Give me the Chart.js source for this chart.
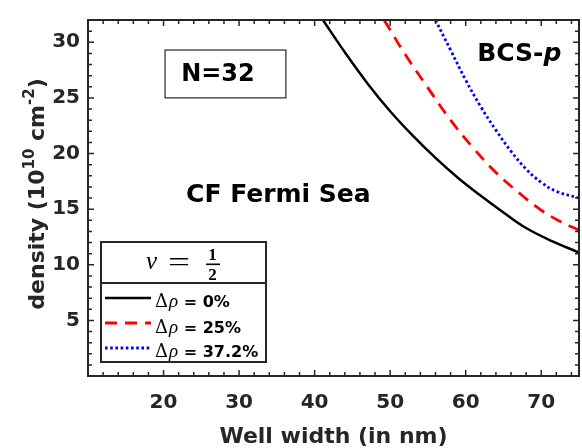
<!DOCTYPE html>
<html>
<head>
<meta charset="utf-8">
<script src="https://cdn.jsdelivr.net/npm/chart.js@4/dist/chart.umd.min.js"></script>
<style>
  html, body { margin: 0; padding: 0; background: #fff; }
</style>
</head>
<body>
<canvas id="myChart" width="582" height="448"></canvas>
<script>
const xTicks = [20, 30, 40, 50, 60, 70];
const yTicks = [5, 10, 15, 20, 25, 30];
const seriesLabels = ["0%", "25%", "37.2%"];

// well width (nm) vs density (10^10 cm^-2)
const width0 = [41.1, 44, 47, 50, 53, 56, 59, 62, 65, 68, 71.5, 75];
const density0 = [32, 29.1, 26.3, 23.8, 21.6, 19.6, 17.8, 16.2, 14.7, 13.3, 12.1, 11.1];

const width25 = [49.2, 52, 55, 58, 61, 64, 67, 70, 72.5, 75];
const density25 = [32, 28.9, 25.9, 23.0, 20.5, 18.3, 16.5, 14.9, 13.9, 13.1];

const width372 = [56, 58, 60, 62, 64, 66, 68, 70, 72, 75];
const density372 = [32, 29.3, 26.6, 24.2, 22.1, 20.2, 18.6, 17.4, 16.6, 16.0];

const FONT = "DejaVu Sans";
const AXIS = "#262626";

const toPoints = (xs, ys) => xs.map((v, i) => ({ x: v, y: ys[i] }));

const data = {
  datasets: [
    {
      label: seriesLabels[0],
      data: toPoints(width0, density0),
      borderColor: "#000000",
      borderWidth: 2.5,
    },
    {
      label: seriesLabels[1],
      data: toPoints(width25, density25),
      borderColor: "#ff0000",
      borderWidth: 2.8,
      borderDash: [12, 8],
    },
    {
      label: seriesLabels[2],
      data: toPoints(width372, density372),
      borderColor: "#0000ff",
      borderWidth: 2.8,
      borderDash: [2.6, 2.6],
    },
  ],
};

const frameAndText = {
  id: "frameAndText",
  afterDraw: (chart) => {
    const {
      ctx,
      chartArea: { top, bottom, left, right },
      scales: { x, y },
    } = chart;

    ctx.save();
    // inward ticks on all four sides
    ctx.strokeStyle = AXIS;
    ctx.lineWidth = 1.5;
    ctx.beginPath();
    for (let v = 10; v <= 75; v += 2) {
      const px = x.getPixelForValue(v);
      const len = xTicks.includes(v) ? 6 : 4;
      ctx.moveTo(px, bottom);
      ctx.lineTo(px, bottom - len);
      ctx.moveTo(px, top);
      ctx.lineTo(px, top + len);
    }
    for (let v = 0; v <= 32; v += 1) {
      const py = y.getPixelForValue(v);
      const len = yTicks.includes(v) ? 6 : 4;
      ctx.moveTo(left, py);
      ctx.lineTo(left + len, py);
      ctx.moveTo(right, py);
      ctx.lineTo(right - len, py);
    }
    ctx.stroke();
    ctx.lineWidth = 2;
    ctx.strokeRect(left, top, right - left, bottom - top);

    // axis titles
    ctx.fillStyle = AXIS;
    ctx.font = `bold 22px '${FONT}'`;
    ctx.textAlign = "center";
    ctx.textBaseline = "middle";
    ctx.fillText("Well width (in nm)", (left + right) / 2, 437);

    ctx.save();
    ctx.translate(44, (top + bottom) / 2 - 4);
    ctx.rotate(-Math.PI / 2);
    ctx.textAlign = "left";
    ctx.textBaseline = "alphabetic";
    const parts = [
      { t: "density (10", size: 22, dy: 0 },
      { t: "10", size: 15, dy: -10 },
      { t: " cm", size: 22, dy: 0 },
      { t: "-2", size: 15, dy: -10 },
      { t: ")", size: 22, dy: 0 },
    ];
    let total = 0;
    parts.forEach((p) => {
      ctx.font = `bold ${p.size}px '${FONT}'`;
      p.w = ctx.measureText(p.t).width;
      total += p.w;
    });
    let cx = -total / 2;
    parts.forEach((p) => {
      ctx.font = `bold ${p.size}px '${FONT}'`;
      ctx.fillText(p.t, cx, p.dy);
      cx += p.w;
    });
    ctx.restore();

    // annotations
    ctx.fillStyle = "#000";
    ctx.textAlign = "center";
    ctx.textBaseline = "middle";
    ctx.font = `bold 25px '${FONT}'`;
    ctx.fillText("CF Fermi Sea", x.getPixelForValue(35.2), y.getPixelForValue(16.2));

    const bx = x.getPixelForValue(67.1);
    const by = y.getPixelForValue(28.9);
    ctx.font = `bold 25px '${FONT}'`;
    const w1 = ctx.measureText("BCS-").width;
    ctx.font = `bold italic 25px '${FONT}'`;
    const w2 = ctx.measureText("p").width;
    ctx.textAlign = "left";
    ctx.font = `bold 25px '${FONT}'`;
    ctx.fillText("BCS-", bx - (w1 + w2) / 2, by);
    ctx.font = `bold italic 25px '${FONT}'`;
    ctx.fillText("p", bx - (w1 + w2) / 2 + w1, by);

    // N=32 box
    const nx0 = x.getPixelForValue(20.2);
    const nx1 = x.getPixelForValue(36.2);
    const ny0 = y.getPixelForValue(29.3);
    const ny1 = y.getPixelForValue(25.0);
    ctx.strokeStyle = AXIS;
    ctx.lineWidth = 1.2;
    ctx.strokeRect(nx0, ny0, nx1 - nx0, ny1 - ny0);
    ctx.textAlign = "center";
    ctx.font = `bold 24px '${FONT}'`;
    ctx.fillText("N=32", x.getPixelForValue(27.2), (ny0 + ny1) / 2 + 1);

    // legend
    const lx0 = 101, lx1 = 266, ly0 = 242, ly1 = 362, ldiv = 283;
    ctx.fillStyle = "#fff";
    ctx.fillRect(lx0, ly0, lx1 - lx0, ly1 - ly0);
    ctx.strokeStyle = AXIS;
    ctx.lineWidth = 2;
    ctx.strokeRect(lx0, ly0, lx1 - lx0, ly1 - ly0);
    ctx.beginPath();
    ctx.moveTo(lx0, ldiv);
    ctx.lineTo(lx1, ldiv);
    ctx.stroke();

    // title nu = 1/2
    ctx.fillStyle = "#000";
    ctx.textBaseline = "alphabetic";
    ctx.textAlign = "center";
    ctx.font = "italic 25px 'Liberation Serif'";
    ctx.fillText("\u03bd", 151.5, 269);
    ctx.save();
    ctx.translate(179, 271);
    ctx.scale(1.45, 1);
    ctx.font = "27px 'Liberation Serif'";
    ctx.fillText("=", 0, 0);
    ctx.restore();
    ctx.font = "bold 17px 'Liberation Serif'";
    ctx.fillText("1", 212.5, 259.5);
    ctx.fillText("2", 212.5, 280);
    ctx.fillRect(206, 263.5, 14, 1.6);

    const lineRows = [298, 323, 348];
    const textRows = [307, 333, 357];
    chart.data.datasets.forEach((ds, i) => {
      const ry = lineRows[i];
      ctx.save();
      ctx.strokeStyle = ds.borderColor;
      ctx.lineWidth = ds.borderWidth;
      ctx.setLineDash(ds.borderDash || []);
      ctx.beginPath();
      ctx.moveTo(105, ry);
      ctx.lineTo(151, ry);
      ctx.stroke();
      ctx.restore();
      const ty = textRows[i];
      ctx.fillStyle = "#000";
      ctx.textAlign = "left";
      ctx.textBaseline = "alphabetic";
      let tx = 155;
      ctx.font = "18px 'DejaVu Serif'";
      ctx.fillText("\u0394", tx, ty);
      tx += ctx.measureText("\u0394").width + 1;
      ctx.font = "italic 19px 'Liberation Serif'";
      ctx.fillText("\u03c1", tx, ty);
      tx += ctx.measureText("\u03c1").width;
      ctx.font = `bold 16px '${FONT}'`;
      ctx.fillText(" = " + ds.label, tx, ty);
    });

    ctx.restore();
  },
};

const config = {
  type: "line",
  data,
  options: {
    responsive: false,
    animation: false,
    devicePixelRatio: 1,
    layout: { padding: { top: 8, right: 3, left: 0, bottom: 0 } },
    elements: {
      point: { radius: 0 },
      line: { tension: 0.4, fill: false },
    },
    datasets: { line: { clip: 0 } },
    plugins: { legend: { display: false }, tooltip: { enabled: false } },
    scales: {
      x: {
        type: "linear",
        min: 10,
        max: 75,
        afterBuildTicks: (scale) => {
          scale.ticks = xTicks.map((v) => ({ value: v }));
        },
        afterFit: (scale) => {
          scale.height = 72;
        },
        ticks: {
          color: AXIS,
          padding: 15,
          maxRotation: 0,
          font: { family: FONT, weight: "bold", size: 20 },
        },
        grid: { display: false, drawTicks: false },
        border: { display: false },
      },
      y: {
        type: "linear",
        min: 0,
        max: 32,
        afterBuildTicks: (scale) => {
          scale.ticks = yTicks.map((v) => ({ value: v }));
        },
        afterFit: (scale) => {
          scale.width = 88;
        },
        ticks: {
          color: AXIS,
          padding: 8,
          font: { family: FONT, weight: "bold", size: 20 },
        },
        grid: { display: false, drawTicks: false },
        border: { display: false },
      },
    },
  },
  plugins: [frameAndText],
};

const myChart = new Chart(document.getElementById("myChart"), config);
</script>
</body>
</html>
